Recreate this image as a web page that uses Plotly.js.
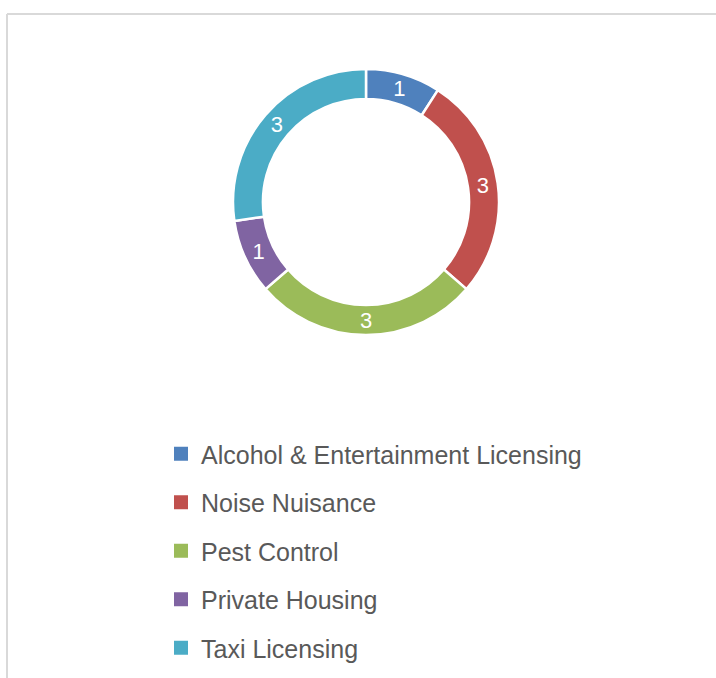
<!DOCTYPE html>
<html>
<head>
<meta charset="utf-8">
<script src="https://cdn.plot.ly/plotly-3.0.1.min.js"></script>
<style>
  html, body { margin: 0; padding: 0; background: #ffffff; }
  #chart { width: 716px; height: 678px; }
</style>
</head>
<body>
<div id="chart"></div>
<script>
const categories = [
  "Alcohol & Entertainment Licensing",
  "Noise Nuisance",
  "Pest Control",
  "Private Housing",
  "Taxi Licensing"
];
const counts = [1, 3, 3, 1, 3];
const colors = ["#4F81BD", "#C0504D", "#9BBB59", "#8064A2", "#4BACC6"];

const W = 716, H = 678;
const px = v => v / W;
const py = v => 1 - v / H;

const cx = 366, cy = 202, R = 133;

const pie = {
  type: "pie",
  labels: categories,
  values: counts,
  sort: false,
  direction: "clockwise",
  rotation: 0,
  hole: 0.775,
  marker: { colors: colors, line: { color: "#ffffff", width: 2.5 } },
  textinfo: "value",
  textposition: "inside",
  insidetextorientation: "horizontal",
  textfont: { color: "#ffffff", size: 22, family: "Liberation Sans, Arial, sans-serif" },
  domain: { x: [px(cx - R), px(cx + R)], y: [py(cy + R), py(cy - R)] },
  showlegend: false,
  hoverinfo: "none"
};

const legendTraces = categories.map((c, i) => ({
  type: "scatter",
  mode: "markers",
  x: [null],
  y: [null],
  name: c,
  legendgroup: "g" + i,
  showlegend: true,
  marker: { symbol: "square", size: 14, color: colors[i], line: { width: 0 } },
  hoverinfo: "none"
}));

const layout = {
  width: W,
  height: H,
  margin: { l: 0, r: 0, t: 0, b: 0 },
  paper_bgcolor: "#ffffff",
  plot_bgcolor: "#ffffff",
  xaxis: { visible: false },
  yaxis: { visible: false },
  showlegend: true,
  legend: {
    x: px(161),
    xanchor: "left",
    y: py(431),
    yanchor: "top",
    traceorder: "grouped",
    tracegroupgap: 13,
    font: { family: "Liberation Sans, Arial, sans-serif", size: 25, color: "#595959" },
    bgcolor: "rgba(0,0,0,0)",
    itemclick: false,
    itemdoubleclick: false
  },
  shapes: [
    { type: "line", xref: "paper", yref: "paper", x0: px(7), x1: 1.01, y0: py(14), y1: py(14),
      line: { color: "#d9d9d9", width: 2 } },
    { type: "line", xref: "paper", yref: "paper", x0: px(7), x1: px(7), y0: py(14), y1: -0.01,
      line: { color: "#d9d9d9", width: 2 } }
  ],
  hovermode: false
};

Plotly.newPlot("chart", [pie].concat(legendTraces), layout, { staticPlot: true, displayModeBar: false });
</script>
</body>
</html>
